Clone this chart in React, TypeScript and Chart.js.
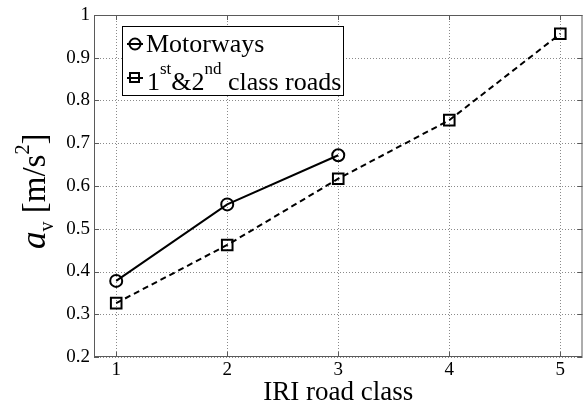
import React, { useEffect, useRef } from "react";
import { Chart, registerables } from "chart.js";

Chart.register(...registerables);

const motorwayX = [1, 2, 3];
const motorwayY = [0.378, 0.557, 0.672];
const classRoadX = [1, 2, 3, 4, 5];
const classRoadY = [0.326, 0.462, 0.617, 0.754, 0.956];
const xTicks = [1, 2, 3, 4, 5];
const xTickLabels = ["1", "2", "3", "4", "5"];
const yTicks = [0.2, 0.3, 0.4, 0.5, 0.6, 0.7, 0.8, 0.9, 1];
const yTickLabels = ["0.2", "0.3", "0.4", "0.5", "0.6", "0.7", "0.8", "0.9", "1"];
const xTitle = "IRI road class";

const FONT = "'Liberation Serif', serif";
const AXIS_COLOR = "#5a5a5a";
const GRID_COLOR = "#8a8a8a";

const decorPlugin = {
  id: "decor",
  beforeDatasetsDraw(chart: any) {
    const { ctx, chartArea, scales } = chart;
    const { left, right, top, bottom } = chartArea;
    ctx.save();
    ctx.strokeStyle = GRID_COLOR;
    ctx.lineWidth = 1;
    ctx.setLineDash([1, 2]);
    ctx.beginPath();
    for (const v of xTicks) {
      const x = Math.round(scales.x.getPixelForValue(v)) + 0.5;
      ctx.moveTo(x, top);
      ctx.lineTo(x, bottom);
    }
    for (const v of yTicks) {
      const y = Math.round(scales.y.getPixelForValue(v)) + 0.5;
      ctx.moveTo(left, y);
      ctx.lineTo(right, y);
    }
    ctx.stroke();
    ctx.restore();
  },
  afterDatasetsDraw(chart: any) {
    const { ctx, chartArea, scales } = chart;
    const { left, right, top, bottom } = chartArea;
    ctx.save();
    ctx.strokeStyle = AXIS_COLOR;
    ctx.lineWidth = 1;
    ctx.setLineDash([]);
    ctx.strokeRect(left + 0.5, top + 0.5, right - left - 1, bottom - top - 1);
    ctx.beginPath();
    for (const v of xTicks) {
      const x = Math.round(scales.x.getPixelForValue(v)) + 0.5;
      ctx.moveTo(x, bottom);
      ctx.lineTo(x, bottom - 5);
      ctx.moveTo(x, top);
      ctx.lineTo(x, top + 5);
    }
    for (const v of yTicks) {
      const y = Math.round(scales.y.getPixelForValue(v)) + 0.5;
      ctx.moveTo(left, y);
      ctx.lineTo(left + 5, y);
      ctx.moveTo(right, y);
      ctx.lineTo(right - 5, y);
    }
    ctx.stroke();

    ctx.fillStyle = "#000";
    ctx.font = `19px ${FONT}`;
    ctx.textAlign = "right";
    ctx.textBaseline = "middle";
    yTicks.forEach((v, i) => {
      ctx.fillText(yTickLabels[i], left - 4, scales.y.getPixelForValue(v));
    });
    ctx.textAlign = "center";
    ctx.textBaseline = "top";
    xTicks.forEach((v, i) => {
      ctx.fillText(xTickLabels[i], scales.x.getPixelForValue(v), bottom + 4);
    });

    ctx.font = `27px ${FONT}`;
    ctx.textAlign = "center";
    ctx.textBaseline = "alphabetic";
    ctx.fillText(xTitle, (left + right) / 2, 400);

    ctx.save();
    ctx.translate(45, 249);
    ctx.rotate(-Math.PI / 2);
    ctx.textAlign = "left";
    let px = 0;
    ctx.font = `italic 35px ${FONT}`;
    ctx.fillText("a", px, 0);
    px += ctx.measureText("a").width;
    ctx.font = `20px ${FONT}`;
    ctx.fillText("v", px, 8);
    px += ctx.measureText("v").width;
    ctx.font = `33px ${FONT}`;
    px += ctx.measureText(" ").width;
    ctx.fillText("[m/s", px, 0);
    px += ctx.measureText("[m/s").width;
    ctx.font = `20px ${FONT}`;
    ctx.fillText("2", px, -16);
    px += ctx.measureText("2").width;
    ctx.font = `33px ${FONT}`;
    ctx.fillText("]", px, 0);
    ctx.restore();

    ctx.fillStyle = "#fff";
    ctx.fillRect(122.5, 26.5, 221, 69);
    ctx.strokeStyle = "#000";
    ctx.lineWidth = 1;
    ctx.strokeRect(122.5, 26.5, 221, 69);

    ctx.lineWidth = 2;
    ctx.beginPath();
    ctx.moveTo(127, 44);
    ctx.lineTo(143, 44);
    ctx.stroke();
    ctx.beginPath();
    ctx.arc(135, 44, 5.5, 0, Math.PI * 2);
    ctx.stroke();

    ctx.beginPath();
    ctx.moveTo(127, 78);
    ctx.lineTo(143, 78);
    ctx.stroke();
    ctx.strokeRect(130, 73, 9, 9);

    ctx.fillStyle = "#000";
    ctx.textAlign = "left";
    ctx.font = `26px ${FONT}`;
    ctx.fillText("Motorways", 146, 52);

    let lx = 147;
    const base = 90;
    const seg = (t: string, size: number, dy: number) => {
      ctx.font = `${size}px ${FONT}`;
      ctx.fillText(t, lx, base + dy);
      lx += ctx.measureText(t).width;
    };
    seg("1", 26, 0);
    seg("st", 17, -16);
    seg("&2", 26, 0);
    seg("nd", 17, -16);
    seg(" class roads", 26, 0);

    ctx.restore();
  },
};

export default function App() {
  const ref = useRef<HTMLCanvasElement | null>(null);
  useEffect(() => {
    if (!ref.current) return;
    const chart = new Chart(ref.current, {
      type: "line",
      data: {
        datasets: [
          {
            label: "Motorways",
            data: motorwayX.map((x, i) => ({ x, y: motorwayY[i] })),
            borderColor: "#000",
            borderWidth: 2,
            pointStyle: "circle",
            pointRadius: 6,
            pointBorderWidth: 2,
            pointBackgroundColor: "rgba(0,0,0,0)",
            pointBorderColor: "#000",
            tension: 0,
            fill: false,
          },
          {
            label: "1st&2nd class roads",
            data: classRoadX.map((x, i) => ({ x, y: classRoadY[i] })),
            borderColor: "#000",
            borderWidth: 2,
            borderDash: [6, 4],
            pointStyle: "rect",
            pointRadius: 7.5,
            pointBorderWidth: 2,
            pointBackgroundColor: "rgba(0,0,0,0)",
            pointBorderColor: "#000",
            tension: 0,
            fill: false,
          },
        ],
      },
      options: {
        animation: false,
        responsive: false,
        maintainAspectRatio: false,
        layout: { padding: { top: 15, right: 2, left: 0, bottom: 0 } },
        plugins: { legend: { display: false }, tooltip: { enabled: false } },
        scales: {
          x: {
            type: "linear",
            min: 0.8,
            max: 5.2,
            afterBuildTicks: (s: any) => {
              s.ticks = xTicks.map((v) => ({ value: v }));
            },
            afterFit: (s: any) => {
              s.height = 48;
            },
            ticks: { display: false },
            grid: { display: false, drawTicks: false },
            border: { display: false },
          },
          y: {
            type: "linear",
            min: 0.2,
            max: 1,
            afterBuildTicks: (s: any) => {
              s.ticks = yTicks.map((v) => ({ value: v }));
            },
            afterFit: (s: any) => {
              s.width = 94;
            },
            ticks: { display: false },
            grid: { display: false, drawTicks: false },
            border: { display: false },
          },
        },
      },
      plugins: [decorPlugin],
    } as any);
    return () => chart.destroy();
  }, []);
  return (
    <div
      style={{
        position: "fixed",
        left: 0,
        top: 0,
        width: 586,
        height: 405,
        overflow: "hidden",
        background: "#fff",
      }}
    >
      <canvas ref={ref} width={592} height={405} style={{ display: "block" }} />
    </div>
  );
}
